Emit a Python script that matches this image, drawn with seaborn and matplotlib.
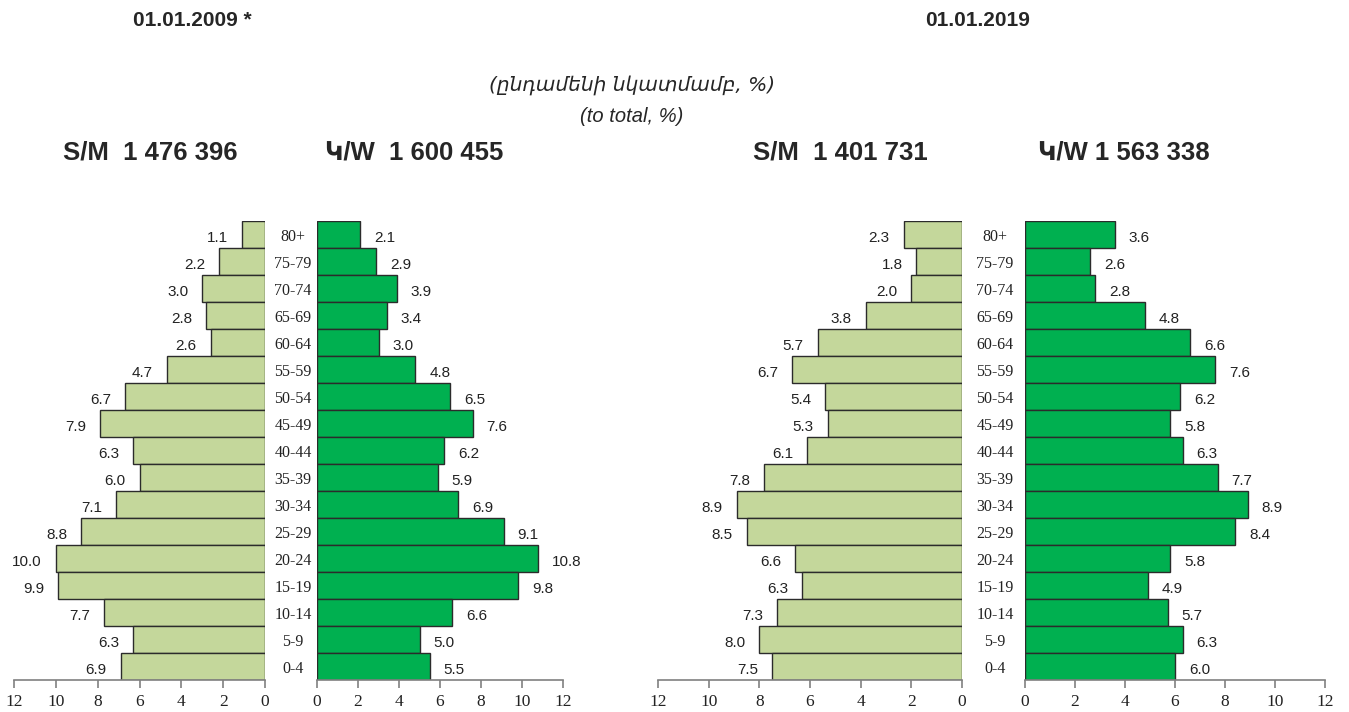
import matplotlib
matplotlib.use('Agg')
import matplotlib.pyplot as plt
import seaborn as sns
import pandas as pd

# age groups, top to bottom as in the picture
ages = ['80+', '75-79', '70-74', '65-69', '60-64', '55-59', '50-54', '45-49',
        '40-44', '35-39', '30-34', '25-29', '20-24', '15-19', '10-14', '5-9', '0-4']

men_2009 = [1.1, 2.2, 3.0, 2.8, 2.6, 4.7, 6.7, 7.9, 6.3, 6.0, 7.1, 8.8, 10.0, 9.9, 7.7, 6.3, 6.9]
women_2009 = [2.1, 2.9, 3.9, 3.4, 3.0, 4.8, 6.5, 7.6, 6.2, 5.9, 6.9, 9.1, 10.8, 9.8, 6.6, 5.0, 5.5]
men_2019 = [2.3, 1.8, 2.0, 3.8, 5.7, 6.7, 5.4, 5.3, 6.1, 7.8, 8.9, 8.5, 6.6, 6.3, 7.3, 8.0, 7.5]
women_2019 = [3.6, 2.6, 2.8, 4.8, 6.6, 7.6, 6.2, 5.8, 6.3, 7.7, 8.9, 8.4, 5.8, 4.9, 5.7, 6.3, 6.0]

titles = ['01.01.2009 *', '01.01.2019']
totals = ['S/M  1 476 396', 'Կ/W  1 600 455', 'S/M  1 401 731', 'Կ/W 1 563 338']
subtitle = ['(ընդամենի նկատմամբ, %)', '(to total, %)']
ticks = [0, 2, 4, 6, 8, 10, 12]

men_color = '#c4d79b'
women_color = '#00b050'

sns.set_style('white')
plt.rcParams['font.family'] = ['Liberation Sans', 'DejaVu Sans']

fig = plt.figure(figsize=(13.49, 7.12), dpi=100)

W, H = 1349, 712
bot = (H - 680) / H
hgt = (680 - 221) / H

# axes rectangles in pixels: (left, right)
panels = [
    (14, 265, men_2009, men_color, True),
    (317, 563, women_2009, women_color, False),
    (658, 962, men_2019, men_color, True),
    (1025, 1325, women_2019, women_color, False),
]

axes = []
for left, right, vals, col, is_men in panels:
    ax = fig.add_axes([left / W, bot, (right - left) / W, hgt])
    df = pd.DataFrame({'age': ages, 'pct': vals})
    sns.barplot(data=df, x='pct', y='age', orient='h', color=col, width=1.0,
                edgecolor='#2b2b2b', linewidth=1.0, saturation=1, ax=ax)
    ax.set_ylim(len(ages) - 0.5, -0.5)
    if is_men:
        ax.set_xlim(12, 0)
    else:
        ax.set_xlim(0, 12)
    ax.set_xticks(ticks)
    ax.set_xticklabels([str(t) for t in ticks], family='Liberation Serif',
                       fontsize=12.5, color='#222222')
    ax.tick_params(axis='x', direction='out', length=6, width=1.2,
                   color='#808080', pad=4, bottom=True)
    ax.set_yticks([])
    ax.set_xlabel('')
    ax.set_ylabel('')
    for s in ['top', 'left', 'right']:
        ax.spines[s].set_visible(False)
    ax.spines['bottom'].set_color('#808080')
    ax.spines['bottom'].set_linewidth(1.2)
    for c in ax.containers:
        labels = ax.bar_label(c, fmt='%.1f', padding=10, fontsize=11, color='#222222')
        for lab in labels:
            x0, _ = lab.xyann
            lab.xyann = (x0, -2.5)
    axes.append(ax)

# age labels between the halves
for ax, off in [(axes[1], -24), (axes[3], -30)]:
    width_px = ax.get_position().width * W
    for i, a in enumerate(ages):
        ax.text(off / width_px, i + 0.1, a, transform=ax.get_yaxis_transform(),
                ha='center', va='center', family='Liberation Serif',
                fontsize=11.5, color='#222222')

# titles
fig.text(192 / W, 1 - 20 / H, titles[0], ha='center', va='center',
         fontsize=15, fontweight='bold')
fig.text(978 / W, 1 - 20 / H, titles[1], ha='center', va='center',
         fontsize=15, fontweight='bold')
fig.text(632 / W, 1 - 85 / H, subtitle[0], ha='center', va='center',
         fontsize=14.5, style='italic', family=['DejaVu Sans'])
fig.text(632 / W, 1 - 116 / H, subtitle[1], ha='center', va='center',
         fontsize=14.5, style='italic')
for x, t in zip([150, 414, 840, 1124], totals):
    fig.text(x / W, 1 - 153 / H, t, ha='center', va='center',
             fontsize=18.5, fontweight='bold')

fig.savefig('out.png', dpi=100)
